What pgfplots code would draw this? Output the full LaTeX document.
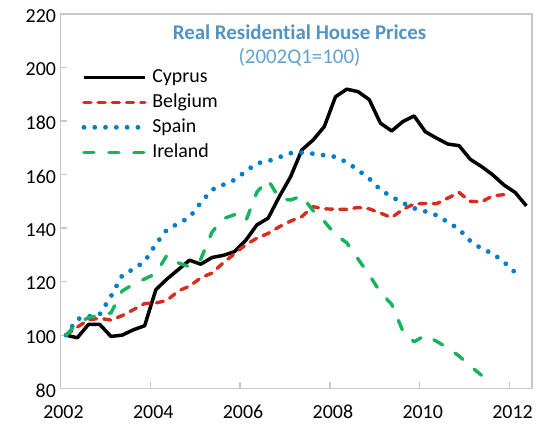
\documentclass[border=0pt]{standalone}
\usepackage{fontspec}
\setmainfont{Carlito}[Ligatures={NoCommon}]
\usepackage{pgfplots}
\pgfplotsset{compat=1.18}
\definecolor{cyp}{RGB}{0,0,0}
\definecolor{bel}{RGB}{213,45,30}
\definecolor{spa}{RGB}{0,125,200}
\definecolor{ire}{RGB}{20,180,95}
\definecolor{ttl}{RGB}{82,148,190}
\definecolor{sub}{RGB}{100,162,205}
\definecolor{axgray}{RGB}{200,200,200}
\begin{document}
\begin{tikzpicture}
\begin{axis}[
  scale only axis, width=472bp, height=375bp,
  xmin=2002, xmax=2012.5, ymin=80, ymax=220,
  xtick={2002,2004,2006,2008,2010,2012},
  ytick={80,100,120,140,160,180,200,220},
  xticklabel style={/pgf/number format/1000 sep={}, yshift=-13bp, xshift=3bp},
  yticklabel style={xshift=-1bp, yshift=-2bp},
  /pgf/number format/assume math mode=true,
  tick label style={font=\fontsize{20}{24}\selectfont},
  xtick pos=bottom, ytick pos=left,
  tick align=inside, major tick length=7bp,
  every tick/.style={axgray, line width=1.2bp},
  axis line style={axgray, line width=1.5bp},
  legend image code/.code={\draw[#1] (0bp,0bp) -- (61bp,0bp);},
  legend cell align=left,
  legend style={at={(axis description cs:0.038,0.866)}, anchor=north west,
    draw=none, fill=none, font=\fontsize{20}{24}\selectfont, row sep=3bp,
    nodes={inner sep=2bp, text height=14bp, text depth=4bp},
    /tikz/every odd column/.style={column sep=3bp}},
]
\addplot[cyp, line width=3.5bp, line join=round] coordinates {
(2002.125,100) (2002.375,99) (2002.625,104) (2002.875,104)
(2003.125,99.5) (2003.375,100) (2003.625,102) (2003.875,103.5)
(2004.125,117) (2004.375,121) (2004.625,124.5) (2004.875,128)
(2005.125,126.5) (2005.375,129) (2005.625,129.8) (2005.875,131.2)
(2006.125,135.4) (2006.375,141.2) (2006.625,143.7) (2006.875,151.8)
(2007.125,159.2) (2007.375,169.2) (2007.625,172.9) (2007.875,177.9)
(2008.125,189.1) (2008.375,191.9) (2008.625,191) (2008.875,188)
(2009.125,179.2) (2009.375,176.3) (2009.625,179.8) (2009.875,181.9)
(2010.125,176) (2010.375,173.6) (2010.625,171.4) (2010.875,170.8)
(2011.125,165.7) (2011.375,163) (2011.625,159.9) (2011.875,156.1)
(2012.125,153.3) (2012.375,148.3)};
\addlegendentry{Cyprus}
\addplot[bel, line width=3.4bp, line join=round, line cap=round, dash pattern=on 7bp off 7.2bp] coordinates {
(2002.125,100) (2002.375,103) (2002.625,105.7) (2002.875,106.3)
(2003.125,105.6) (2003.375,107.3) (2003.625,109.5) (2003.875,111.8)
(2004.125,112) (2004.375,113) (2004.625,116.5) (2004.875,118.3)
(2005.125,121.4) (2005.375,123.2) (2005.625,127) (2005.875,130.4)
(2006.125,133.8) (2006.375,136.2) (2006.625,138) (2006.875,140.5)
(2007.125,142.6) (2007.375,144.3) (2007.625,148) (2007.875,147.2)
(2008.125,147) (2008.375,147) (2008.625,147.7) (2008.875,147.2)
(2009.125,145.6) (2009.375,143.9) (2009.625,147) (2009.875,149)
(2010.125,149.2) (2010.375,149.1) (2010.625,151.2) (2010.875,153.3)
(2011.125,150) (2011.375,149.8) (2011.625,152) (2011.875,152.5)};
\addlegendentry{Belgium}
\addplot[spa, line width=4.8bp, line cap=round, dash pattern=on 0bp off 10.8bp] coordinates {
(2002.125,100) (2002.375,106) (2002.625,107) (2002.875,107.8)
(2003.125,114.5) (2003.375,122.3) (2003.625,124.7) (2003.875,127.5)
(2004.125,134) (2004.375,139.5) (2004.625,141.7) (2004.875,144)
(2005.125,149.5) (2005.375,154.3) (2005.625,156.2) (2005.875,158)
(2006.125,161.2) (2006.375,164.2) (2006.625,165) (2006.875,166.5)
(2007.125,168) (2007.375,168.2) (2007.625,167.8) (2007.875,167.2)
(2008.125,166.6) (2008.375,164.6) (2008.625,161.7) (2008.875,158.5)
(2009.125,154.3) (2009.375,151.7) (2009.625,149.4) (2009.875,147.4)
(2010.125,146.2) (2010.375,144.8) (2010.625,142.2) (2010.875,139.6)
(2011.125,135.2) (2011.375,132.3) (2011.625,130.5) (2011.875,127.3)
(2012.125,123.4)};
\addlegendentry{Spain}
\addplot[ire, line width=3.4bp, line join=round, line cap=round, dash pattern=on 10bp off 15bp] coordinates {
(2002.125,100) (2002.375,104.5) (2002.625,106.5) (2002.875,107.5)
(2003.125,108.3) (2003.375,116.5) (2003.625,119) (2003.875,121)
(2004.125,123) (2004.375,130) (2004.625,127) (2004.875,125.5)
(2005.125,128.4) (2005.375,138.5) (2005.625,143.5) (2005.875,145)
(2006.125,142.5) (2006.375,153.5) (2006.625,158) (2006.875,151)
(2007.125,150.5) (2007.375,152) (2007.625,146.5) (2007.875,142.5)
(2008.125,137.5) (2008.375,134.5) (2008.625,128.5) (2008.875,122.5)
(2009.125,116) (2009.375,111.5) (2009.625,101.5) (2009.875,97.5)
(2010.125,100) (2010.375,97.7) (2010.625,95.2) (2010.875,92.2)
(2011.125,88.5) (2011.375,85)};
\addlegendentry{Ireland}
\node[anchor=base, font=\bfseries\fontsize{21}{25}\selectfont, text=ttl] at (axis description cs:0.507,0.933) {Real Residential House Prices};
\node[anchor=base, font=\fontsize{21}{25}\selectfont, text=sub] at (axis description cs:0.507,0.867) {(2002Q1=100)};
\coordinate (bl) at (axis description cs:0,0);
\coordinate (tr) at (axis description cs:1,1);
\end{axis}
\pgfresetboundingbox
\path ([xshift=-60.5bp,yshift=-38bp]bl) rectangle ([xshift=5bp,yshift=14bp]tr);
\end{tikzpicture}
\end{document}
